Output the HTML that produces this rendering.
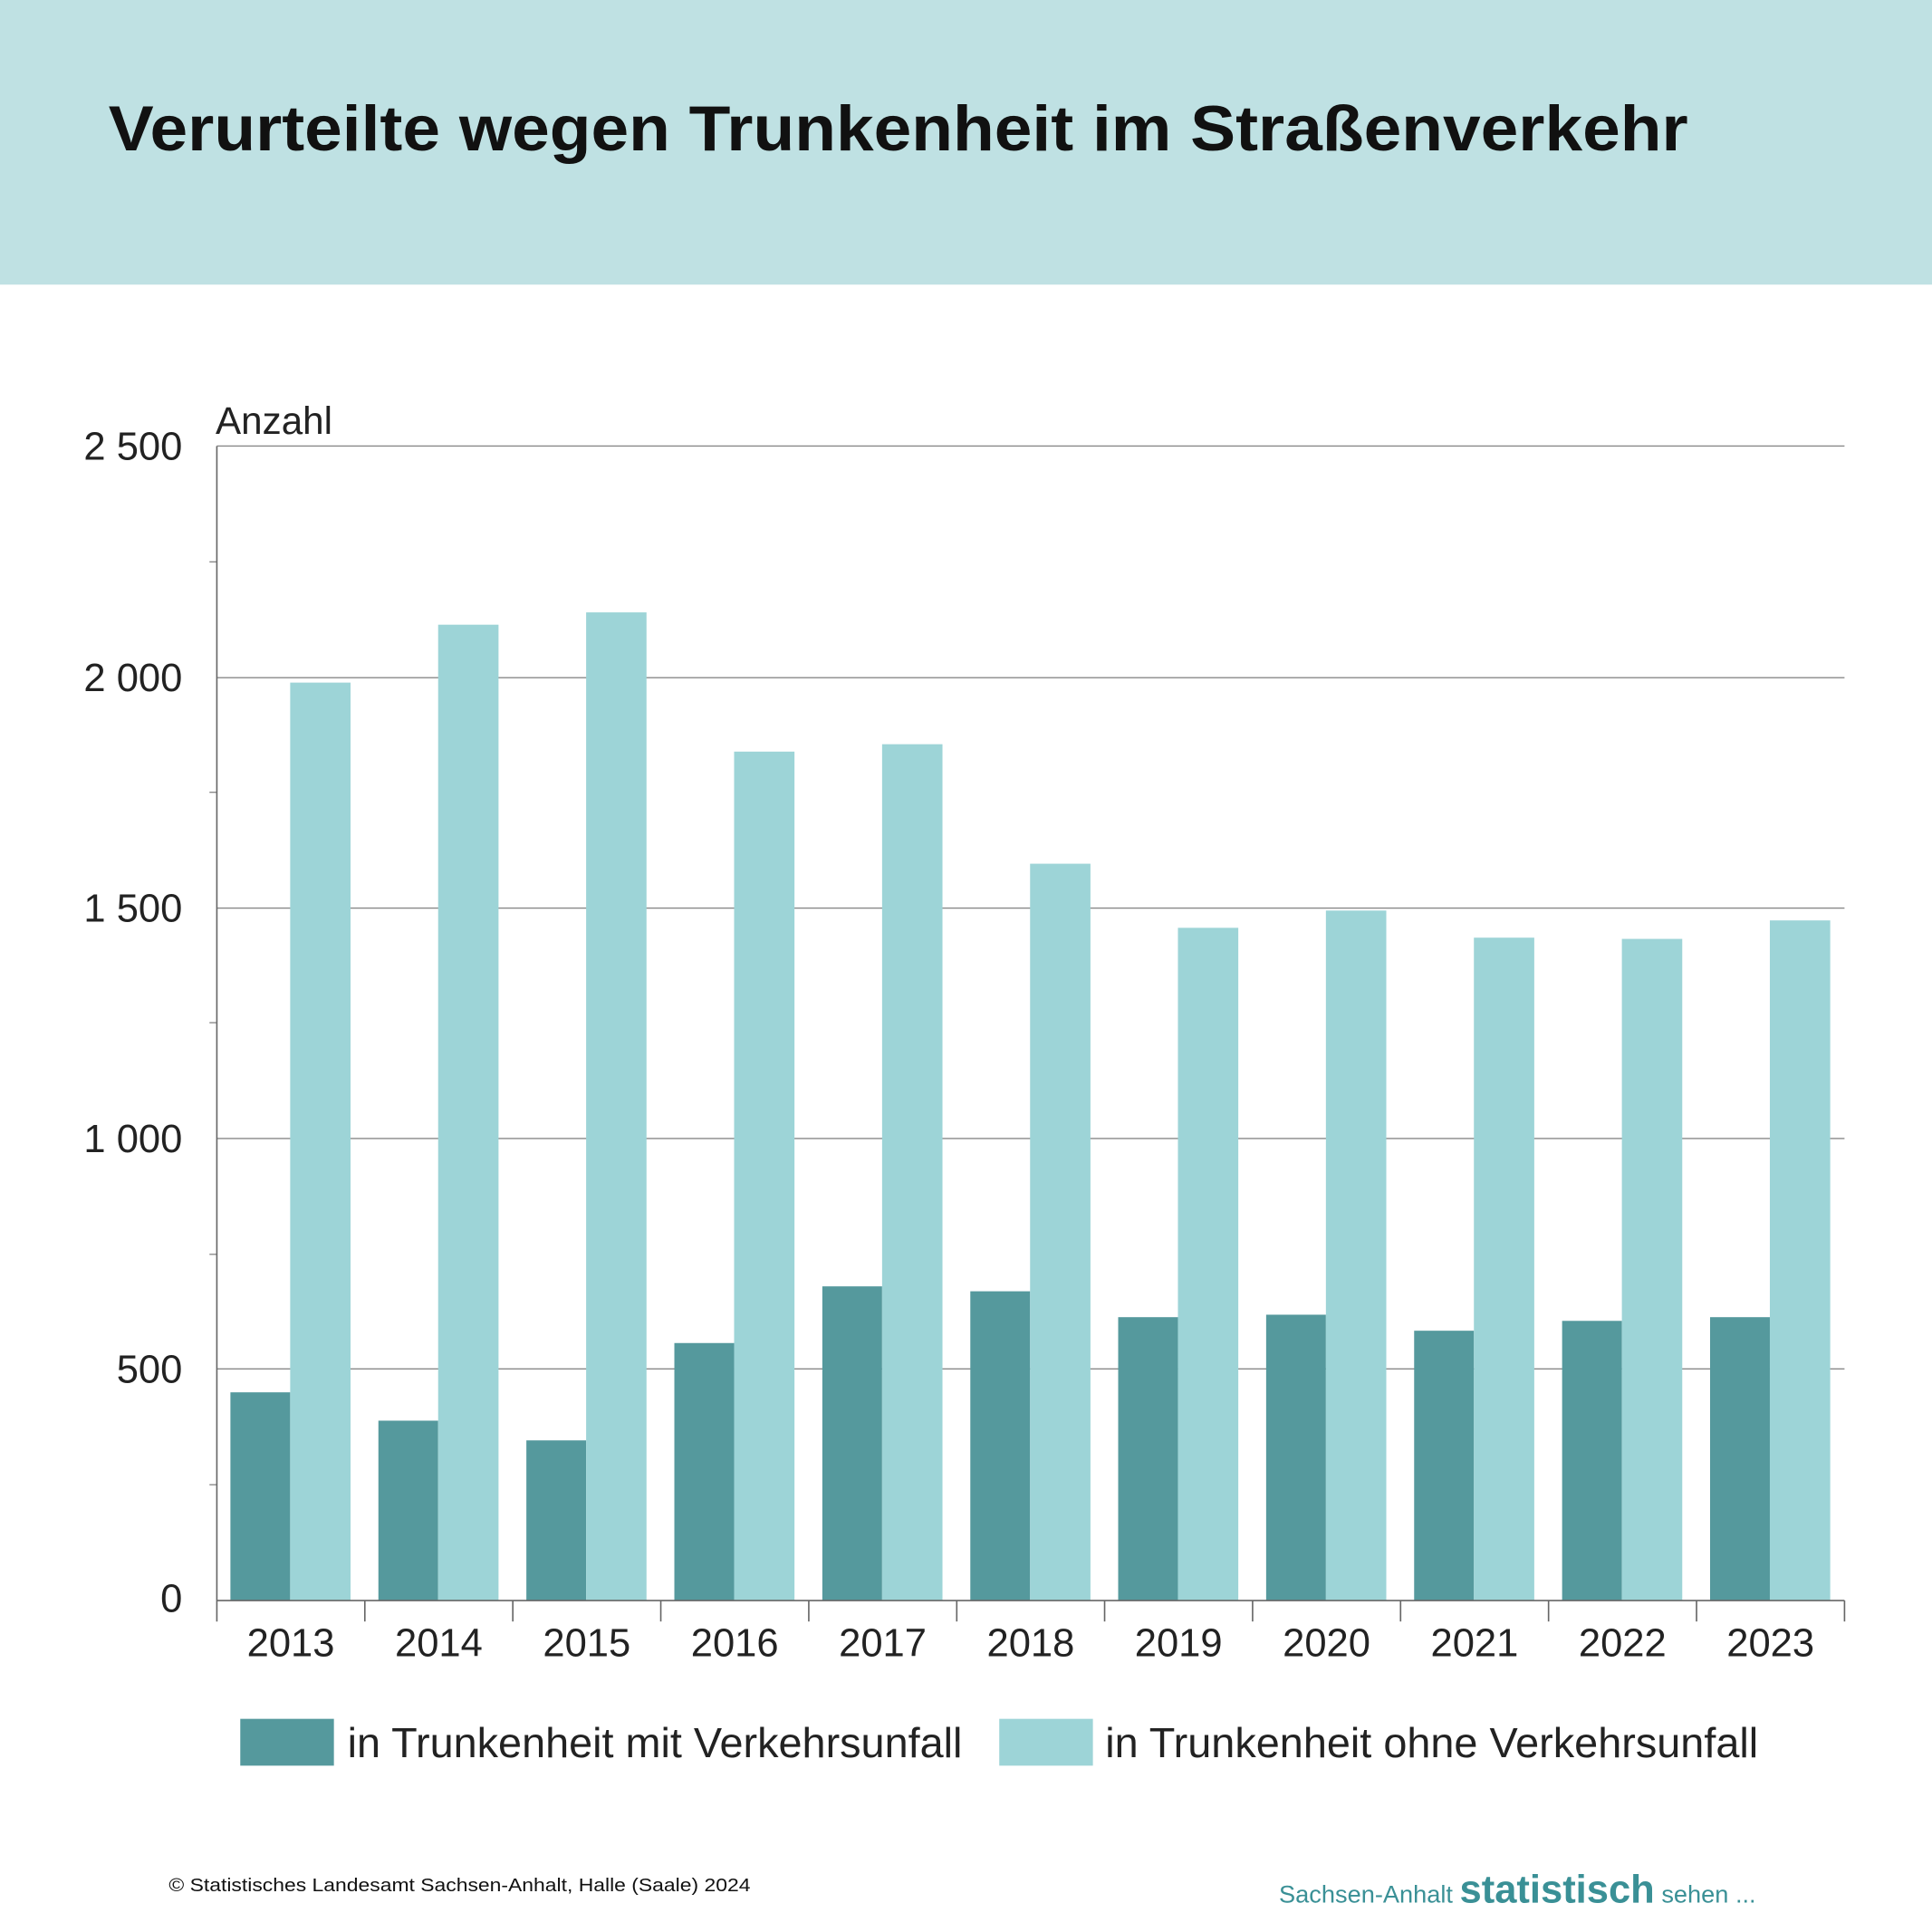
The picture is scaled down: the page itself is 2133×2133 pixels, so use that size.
<!DOCTYPE html>
<html><head><meta charset="utf-8"><style>
html,body{margin:0;padding:0;background:#fff}
svg{display:block}
text{font-family:"Liberation Sans",Arial,sans-serif}
</style></head><body>
<svg width="2133" height="2133" viewBox="0 0 1568 1568" xmlns="http://www.w3.org/2000/svg">
<rect x="0" y="0" width="1568" height="231" fill="#bfe1e3"/>
<text x="88" y="122" font-size="52" font-weight="bold" fill="#111" textLength="1282" lengthAdjust="spacingAndGlyphs">Verurteilte wegen Trunkenheit im Straßenverkehr</text>
<g stroke="#888" stroke-width="1">
<line x1="176" y1="362" x2="1497" y2="362"/>
<line x1="176" y1="550" x2="1497" y2="550"/>
<line x1="176" y1="737" x2="1497" y2="737"/>
<line x1="176" y1="924" x2="1497" y2="924"/>
<line x1="176" y1="1111" x2="1497" y2="1111"/>
<line x1="170" y1="456" x2="176" y2="456"/>
<line x1="170" y1="643" x2="176" y2="643"/>
<line x1="170" y1="830" x2="176" y2="830"/>
<line x1="170" y1="1018" x2="176" y2="1018"/>
<line x1="170" y1="1205" x2="176" y2="1205"/>
</g>
<g fill="#55999d">
<rect x="187" y="1130" width="48.5" height="169"/>
<rect x="307.1" y="1153" width="48.5" height="146"/>
<rect x="427.2" y="1169" width="48.5" height="130"/>
<rect x="547.3" y="1090" width="48.5" height="209"/>
<rect x="667.4" y="1044" width="48.5" height="255"/>
<rect x="787.5" y="1048" width="48.5" height="251"/>
<rect x="907.5" y="1069" width="48.5" height="230"/>
<rect x="1027.6" y="1067" width="48.5" height="232"/>
<rect x="1147.7" y="1080" width="48.5" height="219"/>
<rect x="1267.8" y="1072" width="48.5" height="227"/>
<rect x="1387.9" y="1069" width="48.5" height="230"/>
</g>
<g fill="#9dd4d7">
<rect x="235.5" y="554" width="49" height="745"/>
<rect x="355.6" y="507" width="49" height="792"/>
<rect x="475.7" y="497" width="49" height="802"/>
<rect x="595.8" y="610" width="49" height="689"/>
<rect x="715.9" y="604" width="49" height="695"/>
<rect x="836.0" y="701" width="49" height="598"/>
<rect x="956.0" y="753" width="49" height="546"/>
<rect x="1076.1" y="739" width="49" height="560"/>
<rect x="1196.2" y="761" width="49" height="538"/>
<rect x="1316.3" y="762" width="49" height="537"/>
<rect x="1436.4" y="747" width="49" height="552"/>
</g>
<g stroke="#666" stroke-width="1.2">
<line x1="176" y1="362" x2="176" y2="1316"/>
<line x1="176" y1="1299" x2="1497" y2="1299"/>
<line x1="296.1" y1="1299" x2="296.1" y2="1316"/>
<line x1="416.2" y1="1299" x2="416.2" y2="1316"/>
<line x1="536.3" y1="1299" x2="536.3" y2="1316"/>
<line x1="656.4" y1="1299" x2="656.4" y2="1316"/>
<line x1="776.5" y1="1299" x2="776.5" y2="1316"/>
<line x1="896.5" y1="1299" x2="896.5" y2="1316"/>
<line x1="1016.6" y1="1299" x2="1016.6" y2="1316"/>
<line x1="1136.7" y1="1299" x2="1136.7" y2="1316"/>
<line x1="1256.8" y1="1299" x2="1256.8" y2="1316"/>
<line x1="1376.9" y1="1299" x2="1376.9" y2="1316"/>
<line x1="1497" y1="1299" x2="1497" y2="1316"/>
</g>
<g font-size="32" fill="#222" text-anchor="end">
<text x="148" y="373">2 500</text>
<text x="148" y="561">2 000</text>
<text x="148" y="748">1 500</text>
<text x="148" y="935">1 000</text>
<text x="148" y="1122">500</text>
<text x="148" y="1308">0</text>
</g>
<g font-size="32" fill="#222" text-anchor="middle">
<text x="236" y="1344">2013</text>
<text x="356.1" y="1344">2014</text>
<text x="476.2" y="1344">2015</text>
<text x="596.3" y="1344">2016</text>
<text x="716.4" y="1344">2017</text>
<text x="836.5" y="1344">2018</text>
<text x="956.5" y="1344">2019</text>
<text x="1076.6" y="1344">2020</text>
<text x="1196.7" y="1344">2021</text>
<text x="1316.8" y="1344">2022</text>
<text x="1436.9" y="1344">2023</text>
</g>
<text x="175" y="352" font-size="31" fill="#222">Anzahl</text>
<rect x="195" y="1395" width="76" height="38" fill="#55999d"/>
<text x="282" y="1426" font-size="34" fill="#222" textLength="499" lengthAdjust="spacingAndGlyphs">in Trunkenheit mit Verkehrsunfall</text>
<rect x="811" y="1395" width="76" height="38" fill="#9dd4d7"/>
<text x="897" y="1426" font-size="34" fill="#222" textLength="530" lengthAdjust="spacingAndGlyphs">in Trunkenheit ohne Verkehrsunfall</text>
<text x="137" y="1535" font-size="15" fill="#111" textLength="472" lengthAdjust="spacingAndGlyphs">© Statistisches Landesamt Sachsen-Anhalt, Halle (Saale) 2024</text>
<text x="1038" y="1544" font-size="20" fill="#3a9096">Sachsen-Anhalt <tspan font-size="32" font-weight="bold">statistisch</tspan> sehen ...</text>
</svg>
</body></html>
